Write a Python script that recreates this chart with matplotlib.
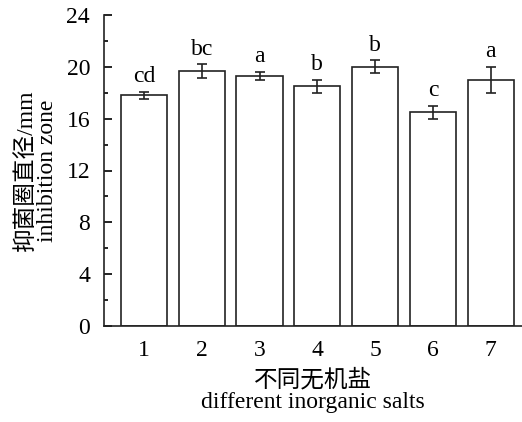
import matplotlib
matplotlib.use("Agg")
import matplotlib.pyplot as plt
from matplotlib.ticker import MultipleLocator

plt.rcParams['font.family'] = ['Liberation Serif', 'Noto Sans CJK SC']
plt.rcParams['font.size'] = 17

salts = ["1", "2", "3", "4", "5", "6", "7"]
zone_mm = [17.8, 19.65, 19.3, 18.5, 20.0, 16.5, 19.0]
zone_err = [0.28, 0.55, 0.3, 0.5, 0.5, 0.5, 1.0]
groups = ["cd", "bc", "a", "b", "b", "c", "a"]

fig = plt.figure(figsize=(5.22, 4.22), dpi=100)
ax = fig.add_axes([104 / 522, 96 / 422, 418 / 522, 311 / 422])

x = list(range(1, len(salts) + 1))
ax.bar(x, zone_mm, width=0.8, color="white", edgecolor="#222222", linewidth=1.2)
ax.errorbar(x, zone_mm, yerr=zone_err, fmt="none", ecolor="#222222",
            elinewidth=1.2, capsize=3.6, capthick=1.2)

for xi, v, e, g in zip(x, zone_mm, zone_err, groups):
    ax.annotate(g, (xi, v + e), xytext=(0, 7), textcoords="offset points",
                ha="center", va="baseline", fontsize=17)

ax.set_xlim(0.31, 7.54)
ax.set_ylim(0, 24)
ax.yaxis.set_major_locator(MultipleLocator(4))
ax.yaxis.set_minor_locator(MultipleLocator(2))
ax.set_xticks(x)
ax.set_xticklabels(salts)

ax.tick_params(axis="y", which="major", direction="in", length=6, width=1.2, pad=10)
ax.tick_params(axis="y", which="minor", direction="in", length=3, width=1.2)
ax.tick_params(axis="x", length=0, pad=10)

for side in ("top", "right"):
    ax.spines[side].set_visible(False)
for side in ("left", "bottom"):
    ax.spines[side].set_linewidth(1.2)
    ax.spines[side].set_color("#222222")

ax.set_ylabel("抑菌圈直径/mm\ninhibition zone", linespacing=1.0, labelpad=6,
              fontweight="light")
ax.set_xlabel("不同无机盐\ndifferent inorganic salts", linespacing=1.0, labelpad=6,
              fontweight="light")

fig.savefig("out.png", dpi=100)
